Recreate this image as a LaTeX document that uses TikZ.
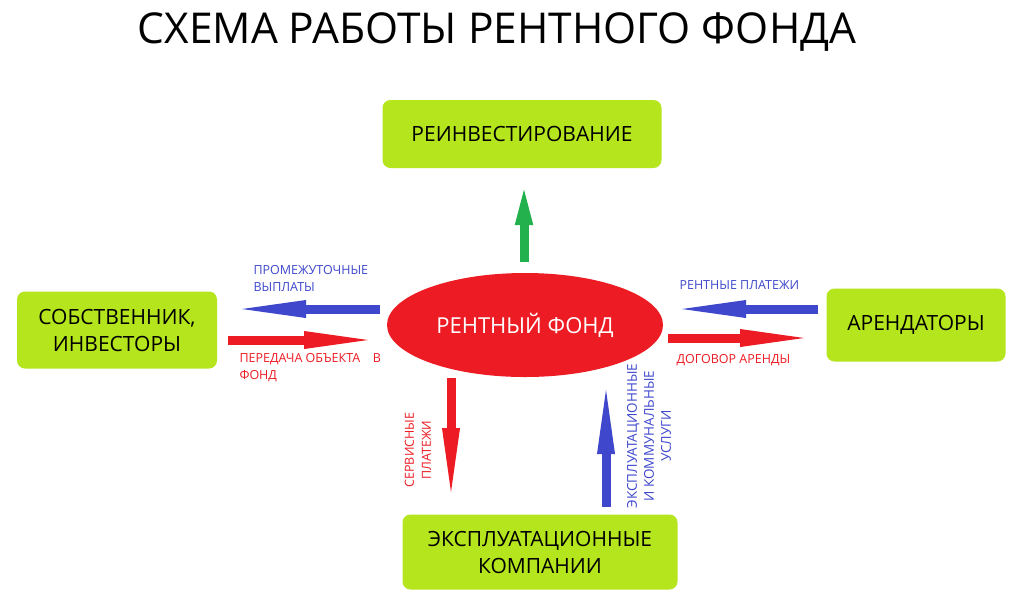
\documentclass[tikz,border=0pt]{standalone}
\usepackage{fontspec}
\setmainfont{Open Sans}
\usetikzlibrary{arrows.meta,shapes.geometric}
\definecolor{lime}{HTML}{B5E61D}
\definecolor{fundred}{HTML}{ED1C24}
\definecolor{payblue}{HTML}{3F48CC}
\definecolor{growgreen}{HTML}{22B14C}
\tikzset{
  party/.style={fill=lime,rounded corners=8pt,align=center,font=\fontsize{21}{27}\selectfont},
  fat/.style={line width=9pt,-{Triangle[length=80pt,width=15pt]}},
  note/.style={font=\fontsize{12.5}{17}\selectfont,align=left}
}
\begin{document}
\begin{tikzpicture}[x=1pt,y=-1pt]
  \useasboundingbox[fill=white] (0,0) rectangle (1024,611);
  \node[font=\fontsize{42.5}{50}\selectfont] (title) at (497,32) {СХЕМА РАБОТЫ РЕНТНОГО ФОНДА};

  \node[party,minimum width=279pt,minimum height=68pt] (reinv) at (522,134) {РЕИНВЕСТИРОВАНИЕ};
  \node[party,minimum width=200pt,minimum height=77pt] (owner) at (117,330) {СОБСТВЕННИК,\\ИНВЕСТОРЫ};
  \node[party,minimum width=179pt,minimum height=73pt] (tenant) at (916,325) {АРЕНДАТОРЫ};
  \node[party,minimum width=275pt,minimum height=75pt] (oper) at (540,552) {ЭКСПЛУАТАЦИОННЫЕ\\КОМПАНИИ};
  \node[ellipse,fill=fundred,minimum width=276pt,minimum height=104pt,text=white,
        font=\fontsize{22}{26}\selectfont] (fund) at (525,325) {РЕНТНЫЙ ФОНД};

  % arrows
  \coordinate (g1) at (524,262); \coordinate (g2) at (524,180);
  \draw[fat,growgreen,-{Triangle[length=45pt,width=15pt]}] (g1) -- (g2);
  \coordinate (lb1) at (380,309); \coordinate (lb2) at (226,309);
  \draw[fat,payblue] (lb1) -- (lb2);
  \coordinate (lr1) at (228,340); \coordinate (lr2) at (384,340);
  \draw[fat,fundred] (lr1) -- (lr2);
  \coordinate (rb1) at (818,309); \coordinate (rb2) at (666,309);
  \draw[fat,payblue] (rb1) -- (rb2);
  \coordinate (rr1) at (668,338); \coordinate (rr2) at (820,338);
  \draw[fat,fundred] (rr1) -- (rr2);
  \coordinate (dr1) at (451,378); \coordinate (dr2) at (451,508);
  \draw[fat,fundred] (dr1) -- (dr2);
  \coordinate (ub1) at (606,507); \coordinate (ub2) at (606,374);
  \draw[fat,payblue] (ub1) -- (ub2);

  % labels
  \node[note,text=payblue,anchor=north west] (l1) at (250,262) {ПРОМЕЖУТОЧНЫЕ\\ВЫПЛАТЫ};
  \node[note,text=payblue,anchor=west] (l2) at (676,285) {РЕНТНЫЕ ПЛАТЕЖИ};
  \node[note,text=fundred,anchor=north west] (l3) at (236,350) {ПЕРЕДАЧА ОБЪЕКТА\quad В\\ФОНД};
  \node[note,text=fundred,anchor=west] (l4) at (673,360) {ДОГОВОР АРЕНДЫ};
  \node[note,text=fundred,align=center,rotate=90] (l5) at (418,450) {СЕРВИСНЫЕ\\ПЛАТЕЖИ};
  \node[note,text=payblue,align=center,rotate=90,font=\fontsize{13.5}{17}\selectfont] (l6) at (649,436) {ЭКСПЛУАТАЦИОННЫЕ\\И КОММУНАЛЬНЫЕ\\УСЛУГИ};
\end{tikzpicture}
\end{document}
